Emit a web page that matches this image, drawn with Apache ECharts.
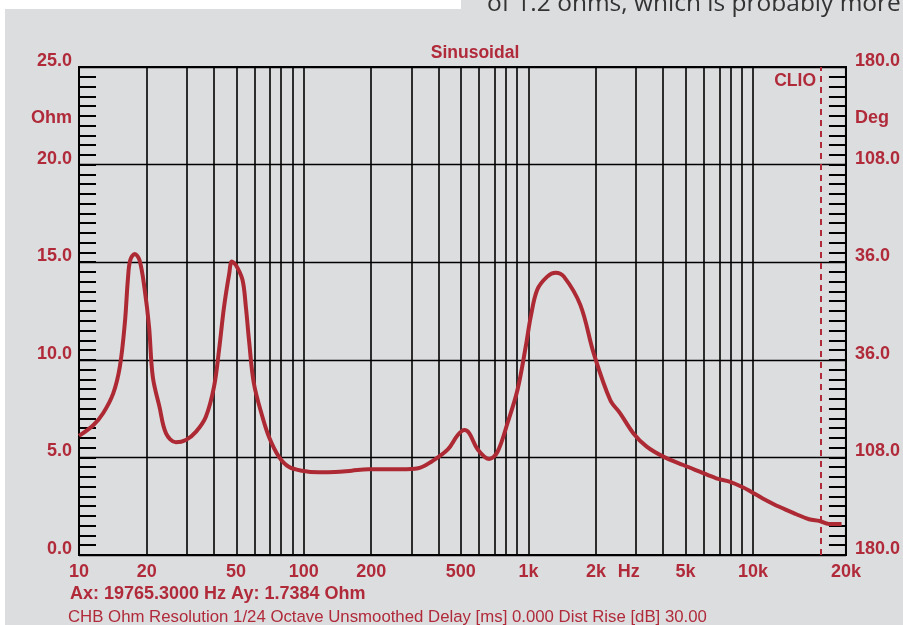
<!DOCTYPE html>
<html>
<head>
<meta charset="utf-8">
<script src="https://cdn.jsdelivr.net/npm/echarts@6/dist/echarts.min.js"></script>
<style>
html,body{margin:0;padding:0;background:#fff;}
#chart{width:903px;height:625px;}
</style>
</head>
<body>
<div id="chart"></div>
<script>
// ---- data ----
const freqs = [10, 11.6, 12.8, 14.2, 15.2, 16.0, 16.5, 16.9, 17.7, 18.6, 19.6, 20.5, 21.3, 22.8, 24.4, 27.0, 29.9, 33.2, 36.7, 39.9, 42.0, 44.2, 46.6, 47.9, 49.9, 53.4, 55.3, 57.1, 60.0, 65.5, 70, 77.5, 85.8, 98.3, 116.5, 138, 163.6, 194, 230, 272, 323, 370, 438, 485, 519, 546, 595, 670, 729, 807, 894, 973, 1024, 1096, 1213, 1321, 1439, 1704, 1953, 2313, 2561, 2935, 3362, 3985, 4887, 5786, 6860, 7856, 9003, 9800, 11040, 13075, 15500, 17750, 19765, 21760, 24760];
const ohms = [6.1, 6.66, 7.26, 8.28, 9.65, 11.9, 14.1, 15.1, 15.42, 15.1, 13.6, 11.7, 9.13, 7.6, 6.23, 5.77, 5.89, 6.32, 7.08, 8.62, 10.5, 12.7, 14.4, 15.03, 14.86, 14.1, 12.7, 11.0, 8.8, 7.08, 6.06, 5.04, 4.52, 4.32, 4.24, 4.25, 4.32, 4.39, 4.39, 4.39, 4.44, 4.78, 5.41, 6.15, 6.4, 6.23, 5.41, 4.92, 5.29, 6.75, 8.45, 10.67, 12.2, 13.6, 14.26, 14.46, 14.26, 12.8, 10.33, 7.94, 7.26, 6.23, 5.55, 5.04, 4.61, 4.27, 3.93, 3.76, 3.47, 3.24, 2.9, 2.47, 2.1, 1.83, 1.74, 1.59, 1.59];

const xMinFreq = 10;
const xMaxFreq = 25900;
const xTickFreqs = [10, 20, 50, 100, 200, 500, 1000, 2000, 2800, 5000, 10000, 25900];
const xTickLabels = ['10', '20', '50', '100', '200', '500', '1k', '2k', 'Hz', '5k', '10k', '20k'];
const gridFreqs = [20, 30, 40, 50, 60, 70, 80, 90, 100, 200, 300, 400, 500, 600, 700, 800, 900, 1000, 2000, 3000, 4000, 5000, 6000, 7000, 8000, 9000, 10000];
const cursorFreq = 19765.3;

const leftTickValues = [0, 5, 10, 15, 20, 22.1, 25];
const leftTickLabels = ['0.0', '5.0', '10.0', '15.0', '20.0', 'Ohm', '25.0'];
const rightTickValues = [-180, -108, -36, 36, 108, 138.2, 180];
const rightTickLabels = ['180.0', '108.0', '36.0', '36.0', '108.0', 'Deg', '180.0'];

const titleText = 'Sinusoidal';
const cursorText = 'Ax: 19765.3000 Hz Ay: 1.7384 Ohm';
const infoText = 'CHB Ohm Resolution 1/24 Octave Unsmoothed Delay [ms] 0.000 Dist Rise [dB] 30.00';
const clipText = 'of 1.2 ohms, which is probably more';

// ---- build ----
const RED = '#b02a3a';
const LINE = '#ad2a34';
const FONT = '"Liberation Sans", Arial, sans-serif';
const lg = v => Math.log10(v);
const lineData = freqs.map((f, i) => [lg(f), ohms[i]]);
const nearestLabel = (v, vals, labels) => {
  let best = 0, bd = Infinity;
  vals.forEach((x, i) => { const d = Math.abs(x - v); if (d < bd) { bd = d; best = i; } });
  return labels[best];
};
const xTickLogs = xTickFreqs.map(lg);

const chart = echarts.init(document.getElementById('chart'));
chart.setOption({
  backgroundColor: '#dcdddf',
  animation: false,
  grid: { left: 79, right: 55, top: 67, bottom: 70, show: true, borderColor: '#000', borderWidth: 2, backgroundColor: 'transparent', containLabel: false },
  xAxis: {
    type: 'value', min: lg(xMinFreq), max: lg(xMaxFreq),
    axisLine: { show: true, lineStyle: { color: '#000', width: 2 } },
    axisTick: { show: false },
    splitLine: { show: false },
    axisLabel: {
      customValues: xTickLogs,
      formatter: v => nearestLabel(v, xTickLogs, xTickLabels),
      color: RED, fontFamily: FONT, fontWeight: 'bold', fontSize: 18, margin: 8,
      showMinLabel: true, showMaxLabel: true
    }
  },
  yAxis: [
    {
      type: 'value', min: 0, max: 25, interval: 5, position: 'left',
      axisLine: { show: true, lineStyle: { color: '#000', width: 2 } },
      axisTick: { show: true, inside: true, length: 17, lineStyle: { color: '#000', width: 2 } },
      minorTick: { show: true, splitNumber: 10, length: 17, lineStyle: { color: '#000', width: 2 } },
      splitLine: { show: true, lineStyle: { color: '#000', width: 1.3 } },
      axisLabel: {
        customValues: leftTickValues,
        formatter: v => nearestLabel(v, leftTickValues, leftTickLabels),
        color: RED, fontFamily: FONT, fontWeight: 'bold', fontSize: 18, margin: 7,
        verticalAlign: 'bottom', lineHeight: 12
      }
    },
    {
      type: 'value', min: -180, max: 180, interval: 72, position: 'right',
      axisLine: { show: true, lineStyle: { color: '#000', width: 2 } },
      axisTick: { show: true, inside: true, length: 17, lineStyle: { color: '#000', width: 2 } },
      minorTick: { show: true, splitNumber: 10, length: 17, lineStyle: { color: '#000', width: 2 } },
      splitLine: { show: false },
      axisLabel: {
        customValues: rightTickValues,
        formatter: v => nearestLabel(v, rightTickValues, rightTickLabels),
        color: RED, fontFamily: FONT, fontWeight: 'bold', fontSize: 18, margin: 9,
        verticalAlign: 'bottom', lineHeight: 12
      }
    }
  ],
  series: [
    {
      type: 'line', data: [], silent: true,
      markLine: {
        silent: true, symbol: ['none', 'none'], animation: false,
        label: { show: false },
        lineStyle: { color: '#000', width: 1.6, type: 'solid' },
        data: gridFreqs.map(f => ({ xAxis: lg(f) }))
      }
    },
    {
      type: 'line', data: [], silent: true,
      markLine: {
        silent: true, symbol: ['none', 'none'], animation: false,
        label: { show: false },
        lineStyle: { color: '#b02a3a', width: 2, type: [6, 5] },
        data: [{ xAxis: lg(cursorFreq) }]
      }
    },
    {
      type: 'line', data: lineData, showSymbol: false, smooth: 0.35,
      lineStyle: { color: LINE, width: 4 }, z: 5
    }
  ],
  graphic: [
    { type: 'rect', left: 0, top: 0, shape: { width: 461, height: 9 }, style: { fill: '#fff' }, silent: true },
    { type: 'rect', left: 0, top: 0, shape: { width: 5, height: 625 }, style: { fill: '#fff' }, silent: true },
    { type: 'text', x: 487, y: 17, style: { text: clipText, fill: '#333', font: '24.5px "Open Sans", sans-serif', textVerticalAlign: 'bottom' }, silent: true },
    { type: 'text', x: 475, y: 53, style: { text: titleText, fill: RED, font: 'bold 17.5px ' + FONT, textAlign: 'center', textVerticalAlign: 'middle' } },
    { type: 'text', x: 816, y: 81, style: { text: 'CLIO', fill: RED, font: 'bold 17.5px ' + FONT, textAlign: 'right', textVerticalAlign: 'middle' } },
    { type: 'text', x: 70, y: 594, style: { text: cursorText, fill: RED, font: 'bold 18px ' + FONT, textAlign: 'left', textVerticalAlign: 'middle' } },
    { type: 'text', x: 68, y: 617, style: { text: infoText, fill: RED, font: '16.8px ' + FONT, textAlign: 'left', textVerticalAlign: 'middle' } }
  ]
});
</script>
</body>
</html>
